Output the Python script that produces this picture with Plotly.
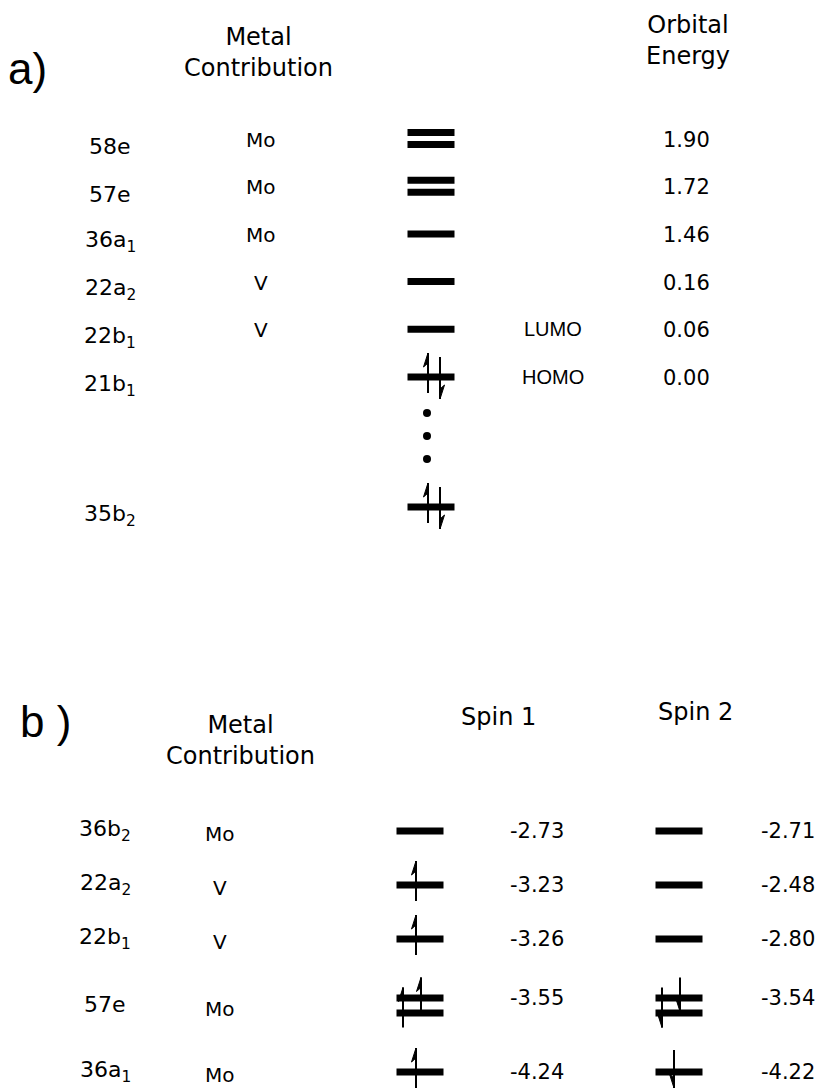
import plotly.graph_objects as go

# ---------------- panel a: closed-shell frontier orbitals ----------------
a_orbitals = ["58e", "57e", "36a<sub>1</sub>", "22a<sub>2</sub>", "22b<sub>1</sub>",
              "21b<sub>1</sub>", "35b<sub>2</sub>"]
a_metal = ["Mo", "Mo", "Mo", "V", "V", "", ""]
a_energy = [1.90, 1.72, 1.46, 0.16, 0.06, 0.00, None]
a_degeneracy = [2, 2, 1, 1, 1, 1, 1]
a_electrons = [0, 0, 0, 0, 0, 2, 2]
a_frontier = ["", "", "", "", "LUMO", "HOMO", ""]

# ---------------- panel b: spin-polarised orbitals ----------------
b_orbitals = ["36b<sub>2</sub>", "22a<sub>2</sub>", "22b<sub>1</sub>", "57e", "36a<sub>1</sub>"]
b_metal = ["Mo", "V", "V", "Mo", "Mo"]
b_spin1_energy = [-2.73, -3.23, -3.26, -3.55, -4.24]
b_spin2_energy = [-2.71, -2.48, -2.80, -3.54, -4.22]
b_degeneracy = [1, 1, 1, 2, 1]
b_spin1_electrons = [0, 1, 1, 2, 1]
b_spin2_electrons = [0, 0, 0, 2, 1]

W, H = 824, 1089
INK = "black"
FONT = "DejaVu Sans"

# ---------------- layout of the two level ladders ----------------
A_TOP, A_STEP, A_PAIR_GAP = 138.5, 47.7, 12
A_BAR_X, A_BAR_W = 431, 47
A_LABEL_X, A_METAL_X, A_TAG_X, A_ENERGY_X = 110, 261, 553, 686

B_TOP, B_STEP, B_DEG_EXTRA, B_PAIR_GAP = 831, 54, 12.5, 15
B_BAR_W = 47
B_LABEL_X, B_METAL_X = 105, 220
B_SPIN1_X, B_SPIN1_E_X = 420, 537
B_SPIN2_X, B_SPIN2_E_X = 679, 788

BAR_THICK = 7
ARROW_W = 2


def ladder_a(n_regular, top, step, skip):
    ys = [top + i * step for i in range(n_regular)]
    ys.append(ys[-1] + skip)
    return ys


def ladder_b(deg, top, step, extra):
    ys = [top]
    for i in range(1, len(deg)):
        ys.append(ys[-1] + step + extra * ((deg[i - 1] - 1) + (deg[i] - 1)))
    return ys


a_rows = ladder_a(len(a_orbitals) - 1, A_TOP, A_STEP, 130)
b_rows = ladder_b(b_degeneracy, B_TOP, B_STEP, B_DEG_EXTRA)

bar_x, bar_y = [], []
stem_x, stem_y = [], []
barb_x, barb_y = [], []


def add_level(xc, yc, deg, width, gap):
    offsets = [0] if deg == 1 else [-gap / 2, gap / 2]
    for off in offsets:
        bar_x.extend([xc - width / 2, xc + width / 2, None])
        bar_y.extend([yc + off, yc + off, None])


def add_arrow(x, top, bottom, up, barb_left):
    stem_x.extend([x, x, None])
    stem_y.extend([top, bottom, None])
    side = -4.5 if barb_left else 4.5
    if up:
        barb_x.extend([x, x + side, x, x, None])
        barb_y.extend([top, top + 14, top + 10, top, None])
    else:
        barb_x.extend([x, x + side, x, x, None])
        barb_y.extend([bottom, bottom - 14, bottom - 10, bottom, None])


# panel a levels and electron pairs
for yc, deg, ne in zip(a_rows, a_degeneracy, a_electrons):
    add_level(A_BAR_X, yc, deg, A_BAR_W, A_PAIR_GAP)
    if ne == 2:
        add_arrow(A_BAR_X - 3, yc - 24, yc + 16, True, True)
        add_arrow(A_BAR_X + 9, yc - 20, yc + 22, False, False)


def spin_column(xc, rows, degs, nes, up):
    for yc, deg, ne in zip(rows, degs, nes):
        add_level(xc, yc, deg, B_BAR_W, B_PAIR_GAP)
        if ne == 1:
            if up:
                add_arrow(xc - 4, yc - 24, yc + 16, True, True)
            else:
                add_arrow(xc - 5, yc - 22, yc + 16, False, True)
        elif ne == 2:
            add_arrow(xc - 17, yc - 18, yc + 22, up, True)
            add_arrow(xc + 1, yc - 28, yc + 6, up, True)


spin_column(B_SPIN1_X, b_rows, b_degeneracy, b_spin1_electrons, True)
spin_column(B_SPIN2_X, b_rows, b_degeneracy, b_spin2_electrons, False)

fig = go.Figure()

fig.add_trace(go.Scatter(x=bar_x, y=bar_y, mode="lines",
                         line=dict(color=INK, width=BAR_THICK), hoverinfo="skip"))
fig.add_trace(go.Scatter(x=stem_x, y=stem_y, mode="lines",
                         line=dict(color=INK, width=ARROW_W), hoverinfo="skip"))
fig.add_trace(go.Scatter(x=barb_x, y=barb_y, mode="lines", fill="toself",
                         fillcolor=INK, line=dict(color=INK, width=1), hoverinfo="skip"))

# ellipsis between HOMO and the deeper occupied level
homo_y = a_rows[a_frontier.index("HOMO")]
fig.add_trace(go.Scatter(x=[A_BAR_X - 4] * 3, y=[homo_y + 36 + 23 * k for k in range(3)],
                         mode="markers", marker=dict(color=INK, size=8), hoverinfo="skip"))


def label(x, y, txt, size, family=FONT):
    fig.add_annotation(x=x, y=y, xref="x", yref="y", text=txt, showarrow=False,
                       xanchor="center", yanchor="middle", align="center",
                       font=dict(family=family, size=size, color=INK))


def text_column(x, ys, texts, size, family=FONT):
    for y, t in zip(ys, texts):
        if t:
            label(x, y, t, size, family)


# panel a text columns
text_column(A_LABEL_X, [y + 8 for y in a_rows], a_orbitals, 22)
text_column(A_METAL_X, [y + 1 for y in a_rows], a_metal, 20)
text_column(A_ENERGY_X, [y + 1 for y in a_rows],
            [f"{e:.2f}" if e is not None else "" for e in a_energy], 21)
text_column(A_TAG_X, a_rows, a_frontier, 20, "Liberation Sans")

# panel b text columns
text_column(B_LABEL_X, [y - 1 for y in b_rows], b_orbitals, 22)
text_column(B_METAL_X, [y + 3 for y in b_rows], b_metal, 20)
b_e_rows = [y - (d - 1) * B_PAIR_GAP / 2 for y, d in zip(b_rows, b_degeneracy)]
text_column(B_SPIN1_E_X, b_e_rows, [f"{e:.2f}" for e in b_spin1_energy], 21)
text_column(B_SPIN2_E_X, b_e_rows, [f"{e:.2f}" for e in b_spin2_energy], 21)

# headers
label(27, 68, "a)", 44, "Liberation Sans")
label(258, 52, "Metal<br>Contribution", 24)
label(688, 40, "Orbital<br>Energy", 24)
label(45, 721, "b )", 44, "Liberation Sans")
label(240, 740, "Metal<br>Contribution", 24)
label(498, 717, "Spin 1", 24)
label(695, 712, "Spin 2", 24)

fig.update_layout(
    width=W, height=H, margin=dict(l=0, r=0, t=0, b=0),
    paper_bgcolor="white", plot_bgcolor="white", showlegend=False,
    xaxis=dict(range=[0, W], visible=False, fixedrange=True),
    yaxis=dict(range=[H, 0], visible=False, fixedrange=True),
)

fig.write_html("out.html")
